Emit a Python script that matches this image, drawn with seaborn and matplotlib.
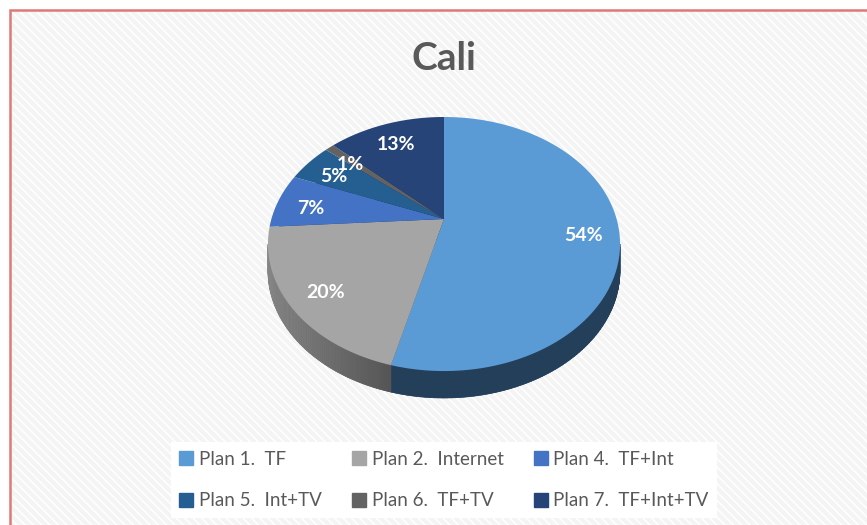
import matplotlib
matplotlib.use("Agg")
import matplotlib.pyplot as plt
import matplotlib.patches as mpatches
import matplotlib.colors as mcolors
import seaborn as sns
import numpy as np

# Datos
planes = ["Plan 1.  TF", "Plan 2.  Internet", "Plan 4.  TF+Int",
          "Plan 5.  Int+TV", "Plan 6.  TF+TV", "Plan 7.  TF+Int+TV"]
porcentajes = [54, 20, 7, 5, 1, 13]
colores = ["#5B9BD5", "#A5A5A5", "#4472C4", "#255E91", "#636363", "#264478"]
colores_lado = ["#243F5A", "#555555", "#223A66", "#163A5A", "#3E3E3E", "#17294A"]

sns.set_style("white")
plt.rcParams["font.family"] = ["Lato", "DejaVu Sans"]
plt.rcParams["hatch.color"] = "white"
plt.rcParams["hatch.linewidth"] = 1.2

fig = plt.figure(figsize=(8.67, 5.25), dpi=100)

# Fondo rayado y borde rojo
fondo = mpatches.Rectangle((10 / 867, 0), 1, 1 - 10 / 525, transform=fig.transFigure,
                           facecolor="#f4f4f4", hatch="\\\\\\\\", zorder=-2)
fig.patches.append(fondo)
borde = mpatches.Rectangle((10 / 867, -0.01), 1, 1 - 10 / 525 + 0.01, transform=fig.transFigure,
                           facecolor="none", edgecolor="#e07878", linewidth=1.8, zorder=-1)
fig.patches.append(borde)

# Eje en pixeles (y hacia abajo)
ax = fig.add_axes([0, 0, 1, 1])
ax.set_xlim(0, 867)
ax.set_ylim(525, 0)
ax.axis("off")

# Geometria del pastel 3D (perspectiva)
cx, cy = 444, 219
rx, ry = 172.6, 122.1
p = 0.197
grosor = 27


def proyectar(r, th, dy=0.0):
    s = 1 + p * r * np.sin(th)
    return cx + rx * r * np.cos(th) / s, cy - ry * r * np.sin(th) / s + dy


total = np.sum(porcentajes)
limites = 90 - 360 * np.concatenate([[0], np.cumsum(porcentajes)]) / total
tang = np.degrees(np.arcsin(p))
vis_ini, vis_fin = -180 + tang, -tang


def sombrear(color, x):
    f = 1 + 0.8 * max(0.0, -(x - cx) / rx - 0.3)
    rgb = np.clip(np.array(mcolors.to_rgb(color)) * f, 0, 1)
    return rgb


# Cara inferior
for i, c in enumerate(colores_lado):
    th = np.radians(np.linspace(limites[i], limites[i + 1], 120))
    xs, ys = proyectar(1, th, grosor)
    x0, y0 = proyectar(0, 0.0, grosor)
    ax.fill(np.r_[x0, xs], np.r_[y0, ys], color=c, linewidth=0, zorder=1)

# Paredes laterales
for i, c in enumerate(colores_lado):
    a = max(limites[i + 1], vis_ini)
    b = min(limites[i], vis_fin)
    if b <= a:
        continue
    th = np.radians(np.linspace(a, b, 80))
    for t0, t1 in zip(th[:-1], th[1:]):
        xa, ya = proyectar(1, t0)
        xb, yb = proyectar(1, t1)
        col = sombrear(c, (xa + xb) / 2)
        ax.fill([xa, xb, xb, xa], [ya, yb, yb + grosor, ya + grosor],
                color=col, edgecolor=col, linewidth=0.4, zorder=2)

# Cara superior
for i, c in enumerate(colores):
    th = np.radians(np.linspace(limites[i], limites[i + 1], 120))
    xs, ys = proyectar(1, th)
    ax.fill(np.r_[cx, xs], np.r_[cy, ys], color=c, linewidth=0, zorder=3)

# Etiquetas de porcentaje
for i, v in enumerate(porcentajes):
    medio = np.radians((limites[i] + limites[i + 1]) / 2)
    x, y = proyectar(0.8, medio, 4)
    ax.text(x, y, f"{v}%", ha="center", va="center", color="white",
            fontsize=14, fontweight="bold", zorder=4)

fig.text(444 / 867, 1 - 58 / 525, "Cali", ha="center", va="center",
         fontsize=28, fontweight="bold", color="#595959")

# Leyenda (orden por filas)
orden = [0, 3, 1, 4, 2, 5]
handles = [mpatches.Patch(color=colores[i]) for i in orden]
labels = [planes[i] for i in orden]
leg = fig.legend(handles, labels, ncol=3, loc="center",
                 bbox_to_anchor=(444 / 867, 45 / 525), frameon=True,
                 fontsize=13.5, handlelength=0.75, handleheight=0.75, handletextpad=0.3,
                 columnspacing=1.6, labelspacing=1.3, borderpad=0.45,
                 fancybox=False, facecolor="white", edgecolor="none", framealpha=1)
for t in leg.get_texts():
    t.set_color("#595959")

fig.savefig("out.png", dpi=100)
